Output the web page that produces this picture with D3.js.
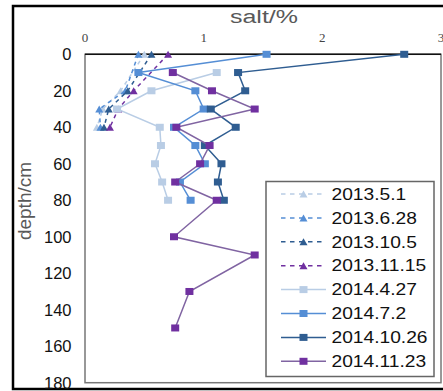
<!DOCTYPE html>
<html>
<head>
<meta charset="utf-8">
<script src="https://cdn.jsdelivr.net/npm/d3@7"></script>
<style>
  body { margin: 0; background: #fff; }
  svg { display: block; font-family: Arial, "Liberation Sans", sans-serif; }
</style>
</head>
<body>
<svg id="chart" width="443" height="391"></svg>
<script>
// salt content (%) by depth (cm)
const seriesNames = ["2013.5.1", "2013.6.28", "2013.10.5", "2013.11.15",
                     "2014.4.27", "2014.7.2", "2014.10.26", "2014.11.23"];
const seriesColors = ["#b9cde5", "#558ed5", "#2f5d91", "#7030a0",
                      "#b9cde5", "#558ed5", "#2f5d91", "#7030a0"];
const lineColors = ["#b9cde5", "#558ed5", "#2f5d91", "#7030a0",
                    "#b9cde5", "#558ed5", "#2f5d91", "#8064a2"];

const depths2013 = [0, 20, 30, 40];
const depthsA = [10, 20, 30, 40, 50, 60, 70, 80];
const depthsB = [0, 10, 20, 30, 40, 50, 60, 70, 80];
const depthsC = [10, 20, 30, 40, 50, 60, 70, 80, 100, 110, 130, 150];

const salt_2013_5_1 = [0.50, 0.30, 0.15, 0.10];
const salt_2013_6_28 = [0.45, 0.34, 0.12, 0.13];
const salt_2013_10_5 = [0.56, 0.36, 0.20, 0.16];
const salt_2013_11_15 = [0.70, 0.41, 0.28, 0.21];
const salt_2014_4_27 = [1.11, 0.56, 0.27, 0.63, 0.64, 0.59, 0.65, 0.70];
const salt_2014_7_2 = [1.53, 0.45, 0.93, 1.00, 0.75, 0.93, 1.01, 0.80, 0.89];
const salt_2014_10_26 = [2.69, 1.29, 1.35, 1.06, 1.27, 1.01, 1.15, 1.12, 1.17];
const salt_2014_11_23 = [0.74, 1.07, 1.43, 0.77, 1.05, 0.97, 0.76, 1.11, 0.75, 1.43, 0.88, 0.76];

const xTicks = [0, 1, 2, 3];
const yTicks = [0, 20, 40, 60, 80, 100, 120, 140, 160, 180];

const seriesDepths = [depths2013, depths2013, depths2013, depths2013, depthsA, depthsB, depthsB, depthsC];
const seriesValues = [salt_2013_5_1, salt_2013_6_28, salt_2013_10_5, salt_2013_11_15,
                      salt_2014_4_27, salt_2014_7_2, salt_2014_10_26, salt_2014_11_23];

const series = seriesNames.map((name, i) => ({
    name: name,
    dashed: i < 4,
    color: seriesColors[i],
    line: lineColors[i],
    points: seriesDepths[i].map((d, j) => ({depth: d, salt: seriesValues[i][j]}))
}));

const svg = d3.select("#chart");

const plotLeft = 85, plotRight = 441, plotTop = 54.3, plotBottom = 382.7;

const x = d3.scaleLinear().domain([0, 3]).range([plotLeft, plotRight]);
const y = d3.scaleLinear().domain([0, 180]).range([plotTop, plotBottom]);

// outer frame
svg.append("rect")
    .attr("x", 13).attr("y", 6)
    .attr("width", 450).attr("height", 383)
    .attr("fill", "#fff")
    .attr("stroke", "#000")
    .attr("stroke-width", 2.5);

// plot area
svg.append("rect")
    .attr("x", plotLeft).attr("y", plotTop)
    .attr("width", plotRight - plotLeft).attr("height", plotBottom - plotTop)
    .attr("fill", "#fff")
    .attr("stroke", "#777")
    .attr("stroke-width", 1.5);
svg.append("line")
    .attr("x1", plotLeft).attr("x2", plotRight)
    .attr("y1", plotTop).attr("y2", plotTop)
    .attr("stroke", "#111").attr("stroke-width", 1.5);

// top axis labels
svg.selectAll("text.xtick")
    .data(xTicks)
    .enter().append("text")
    .attr("class", "xtick")
    .attr("x", d => x(d))
    .attr("y", 42)
    .attr("text-anchor", "middle")
    .style("font-family", "'Liberation Serif', 'DejaVu Serif', serif")
    .style("font-size", "13px")
    .style("fill", "#444")
    .text(d => d);

// left axis labels
svg.selectAll("text.ytick")
    .data(yTicks)
    .enter().append("text")
    .attr("class", "ytick")
    .attr("x", 71.5)
    .attr("y", d => y(d))
    .attr("dy", "0.36em")
    .attr("text-anchor", "end")
    .style("font-size", "16.5px")
    .style("fill", "#111")
    .text(d => d);

// axis titles
svg.append("text")
    .attr("x", 264)
    .attr("y", 23)
    .attr("text-anchor", "middle")
    .attr("textLength", 68)
    .attr("lengthAdjust", "spacingAndGlyphs")
    .style("font-size", "18px")
    .style("fill", "#595959")
    .text("salt/%");

svg.append("text")
    .attr("transform", "translate(31,201) rotate(-90)")
    .attr("text-anchor", "middle")
    .style("font-size", "19px")
    .style("fill", "#595959")
    .text("depth/cm");

const line = d3.line()
    .x(d => x(d.salt))
    .y(d => y(d.depth));

function drawMarker(g, dashed, color, px, py) {
    if (dashed) {
        g.append("path")
            .attr("d", "M" + (px - 4) + "," + (py + 3.5) + "L" + px + "," + (py - 3.5) + "L" + (px + 4) + "," + (py + 3.5) + "Z")
            .attr("fill", color);
    } else {
        g.append("rect")
            .attr("x", px - 4).attr("y", py - 3.5)
            .attr("width", 8).attr("height", 7)
            .attr("fill", color);
    }
}

// lines and markers
series.forEach(function(s) {
    const g = svg.append("g");
    g.append("path")
        .datum(s.points)
        .attr("d", line)
        .attr("fill", "none")
        .attr("stroke", s.line)
        .attr("stroke-width", 1.5)
        .attr("stroke-dasharray", s.dashed ? "4,4" : null);
    s.points.forEach(function(p) {
        drawMarker(g, s.dashed, s.color, x(p.salt), y(p.depth));
    });
});

// legend
const legend = svg.append("g");
legend.append("rect")
    .attr("x", 266).attr("y", 181.5)
    .attr("width", 168).attr("height", 195)
    .attr("fill", "#fff")
    .attr("stroke", "#666")
    .attr("stroke-width", 1.5);

series.forEach(function(s, i) {
    const ly = 194 + i * 23.9;
    legend.append("line")
        .attr("x1", 281).attr("x2", 326)
        .attr("y1", ly).attr("y2", ly)
        .attr("stroke", s.line)
        .attr("stroke-width", 1.5)
        .attr("stroke-dasharray", s.dashed ? "4.5,4.5" : null);
    drawMarker(legend, s.dashed, s.color, 303.5, ly);
    legend.append("text")
        .attr("transform", "translate(331.5," + ly + ") scale(1.2,1)")
        .attr("dy", "0.36em")
        .style("font-size", "16px")
        .style("fill", "#111")
        .text(s.name);
});
</script>
</body>
</html>
